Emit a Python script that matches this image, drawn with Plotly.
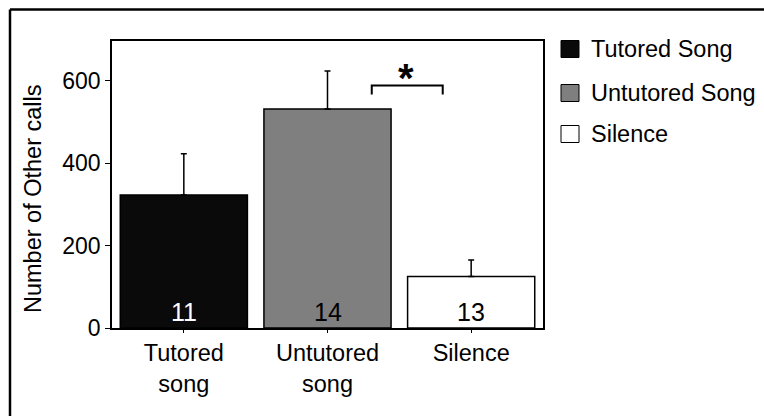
import plotly.graph_objects as go

categories = ["Tutored<br>song", "Untutored<br>song", "Silence"]
legend_names = ["Tutored Song", "Untutored Song", "Silence"]
means = [323, 532, 125]
errors = [100, 92, 40]
n_labels = ["11", "14", "13"]
fills = ["#0a0a0a", "#7f7f7f", "#ffffff"]
n_colors = ["white", "black", "black"]
y_ticks = [0, 200, 400, 600]

W, H = 764, 416
L, R, T, B = 112, 221, 41, 88
PW, PH = W - L - R, H - T - B

def px(xp):
    return (xp - L) / PW

def py(yp):
    return (H - B - yp) / PH

FONT = "Liberation Sans, Arial, sans-serif"

fig = go.Figure()
fig.add_trace(go.Bar(
    x=[0, 1, 2], y=means,
    marker=dict(color=fills, line=dict(color="black", width=1.5)),
    width=0.885,
    error_y=dict(type="data", array=errors, arrayminus=[0, 0, 0], symmetric=False,
                 color="black", thickness=1.5, width=3),
    showlegend=False,
))

annotations = []
for i, (lab, c) in enumerate(zip(n_labels, n_colors)):
    annotations.append(dict(x=i, y=0, xref="x", yref="y", text=lab, showarrow=False,
                            yanchor="bottom", yshift=0,
                            font=dict(family=FONT, size=25, color=c)))

# significance bracket between Untutored and Silence
b_x0, b_x1, b_top, b_leg = 1.308, 1.802, 589, 567
fig.add_shape(type="path",
              path=f"M {b_x0} {b_leg} L {b_x0} {b_top} L {b_x1} {b_top} L {b_x1} {b_leg}",
              xref="x", yref="y", line=dict(color="black", width=2))
annotations.append(dict(x=(b_x0 + b_x1) / 2 - 0.01, y=b_top, xref="x", yref="y", text="<b>*</b>",
                        showarrow=False, yanchor="bottom", yshift=-17,
                        font=dict(family=FONT, size=40, color="black")))

# y-axis title
annotations.append(dict(x=px(33), y=py(199), xref="paper", yref="paper",
                        text="Number of Other calls", textangle=-90, showarrow=False,
                        xanchor="center", yanchor="middle",
                        font=dict(family=FONT, size=23.5, color="black")))

# manual legend
row_y = [49, 93, 134]
for name, col, ry in zip(legend_names, fills, row_y):
    fig.add_shape(type="rect", xref="paper", yref="paper",
                  x0=px(561), x1=px(579), y0=py(ry + 8.5), y1=py(ry - 8.5),
                  fillcolor=col, line=dict(color="black", width=1))
    annotations.append(dict(x=px(589), y=py(ry), xref="paper", yref="paper", text=name,
                            showarrow=False, xanchor="left", yanchor="middle",
                            font=dict(family=FONT, size=23.5, color="black")))

# outer frame (top and left lines)
fig.add_shape(type="line", xref="paper", yref="paper",
              x0=px(10), x1=px(770), y0=py(9.5), y1=py(9.5), line=dict(color="black", width=2.5))
fig.add_shape(type="line", xref="paper", yref="paper",
              x0=px(10), x1=px(10), y0=py(9.5), y1=py(425), line=dict(color="black", width=2.5))

fig.update_layout(
    width=W, height=H,
    margin=dict(l=L, r=R, t=T, b=B),
    paper_bgcolor="white", plot_bgcolor="white",
    annotations=annotations,
    showlegend=False,
    bargap=0.115,
    xaxis=dict(tickmode="array", tickvals=[0, 1, 2], ticktext=categories,
               range=[-0.5, 2.5], showline=True, linecolor="black", linewidth=1.5,
               mirror=True, ticks="outside", ticklen=3, tickcolor="black",
               showgrid=False, zeroline=False,
               tickfont=dict(family=FONT, size=23.5, color="black")),
    yaxis=dict(range=[0, 697], tickvals=y_ticks, showline=True, linecolor="black",
               linewidth=1.5, mirror=True, ticks="outside", ticklen=5, tickcolor="black",
               showgrid=False, zeroline=False,
               tickfont=dict(family=FONT, size=23, color="black")),
)

fig.write_html("out.html")
